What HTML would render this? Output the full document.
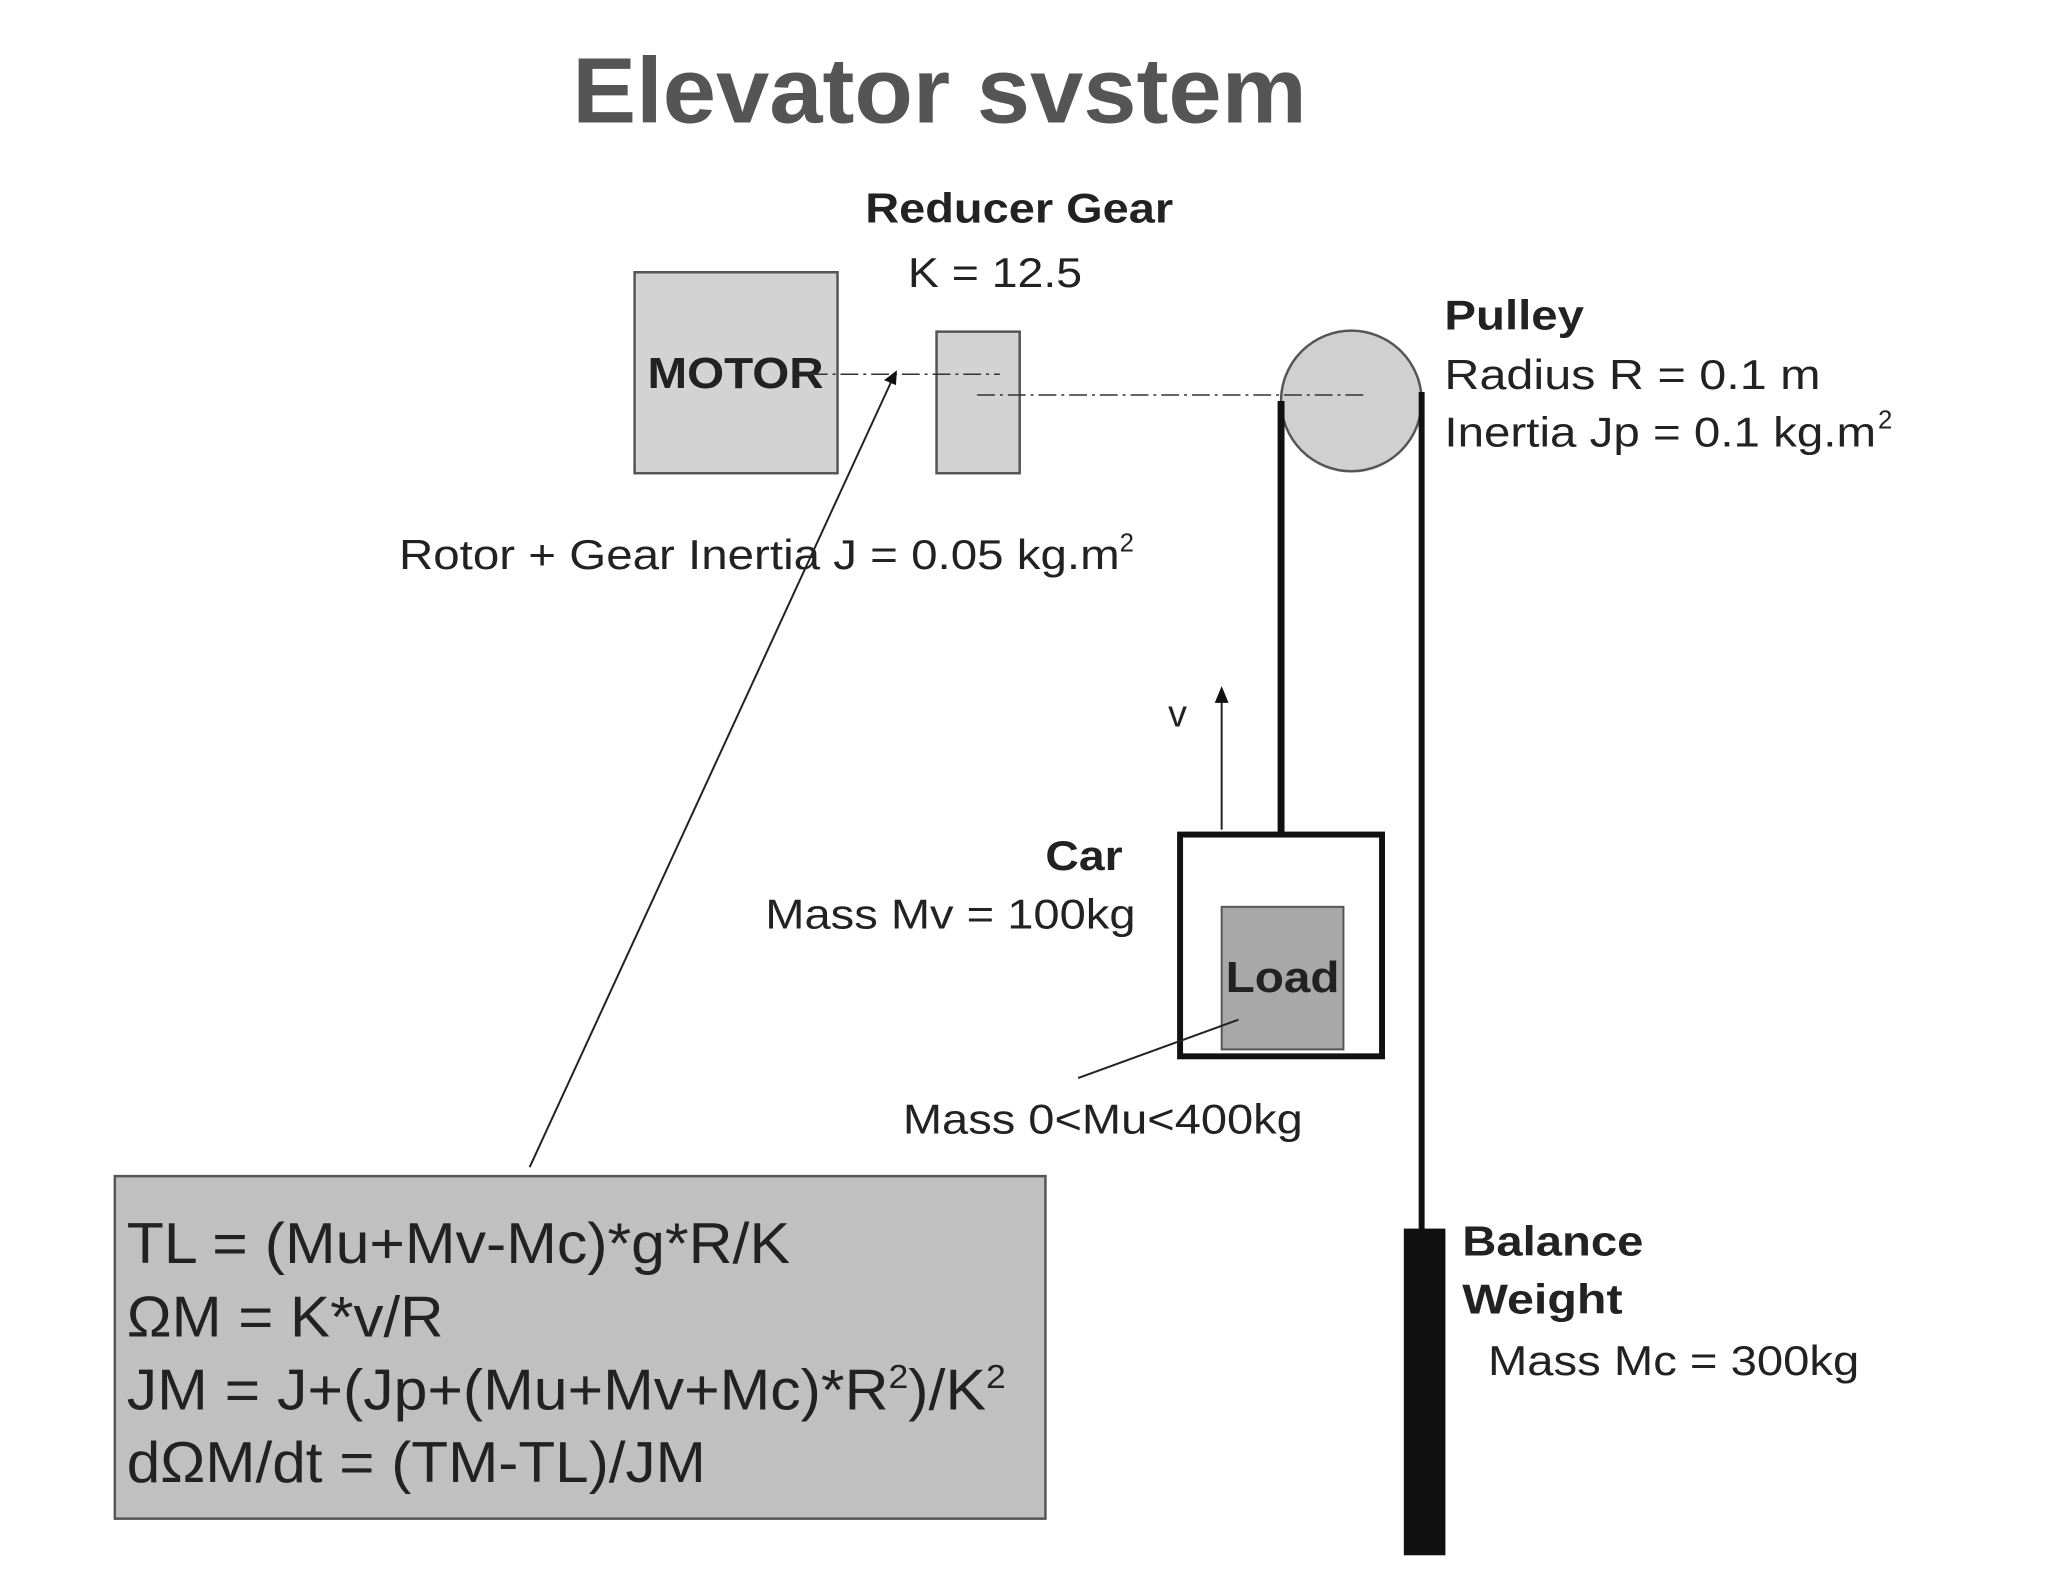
<!DOCTYPE html>
<html><head><meta charset="utf-8"><style>
html,body{margin:0;padding:0;background:#fff;}
svg{display:block;}
text{font-family:"Liberation Sans",Arial,sans-serif;fill:#222;}
</style></head><body>
<svg width="2048" height="1582" viewBox="0 0 2048 1582" xmlns="http://www.w3.org/2000/svg">
<g transform="scale(0.99)">
<text x="578" y="124" font-size="94" font-weight="bold" fill="#555" style="fill:#555" textLength="742" lengthAdjust="spacingAndGlyphs">Elevator svstem</text>

<rect x="641" y="275" width="205" height="203" fill="#d3d3d3" stroke="#555" stroke-width="2.5"/>
<text x="654" y="392" font-size="44" font-weight="bold" textLength="178" lengthAdjust="spacingAndGlyphs">MOTOR</text>
<rect x="946" y="335" width="84" height="143" fill="#d3d3d3" stroke="#555" stroke-width="2.5"/>
<circle cx="1365" cy="405" r="71" fill="#d0d0d0" stroke="#555" stroke-width="2.5"/>

<line x1="818" y1="378" x2="1010" y2="378" stroke="#333" stroke-width="1.5" stroke-dasharray="18,5,3,5"/>
<line x1="987" y1="399" x2="1379" y2="399" stroke="#333" stroke-width="1.5" stroke-dasharray="18,5,3,5"/>

<text x="874" y="225" font-size="42" font-weight="bold" textLength="311" lengthAdjust="spacingAndGlyphs">Reducer Gear</text>
<text x="917" y="290" font-size="42" textLength="176" lengthAdjust="spacingAndGlyphs">K = 12.5</text>
<text x="1459" y="333" font-size="42" font-weight="bold" textLength="141" lengthAdjust="spacingAndGlyphs">Pulley</text>
<text x="1459" y="393" font-size="42" textLength="380" lengthAdjust="spacingAndGlyphs">Radius  R = 0.1 m</text>
<text x="1459" y="451" font-size="42" textLength="436" lengthAdjust="spacingAndGlyphs">Inertia Jp = 0.1 kg.m</text>
<text x="1897" y="433" font-size="26">2</text>
<text x="403" y="575" font-size="42" textLength="728" lengthAdjust="spacingAndGlyphs">Rotor + Gear Inertia J = 0.05 kg.m</text>
<text x="1131" y="557" font-size="26">2</text>

<line x1="1294" y1="405" x2="1294" y2="841" stroke="#111" stroke-width="7"/>
<line x1="1436" y1="396" x2="1436" y2="1245" stroke="#111" stroke-width="6"/>
<rect x="1418" y="1241" width="42" height="330" fill="#111"/>

<rect x="1192" y="843" width="204" height="224" fill="none" stroke="#111" stroke-width="6"/>
<rect x="1234" y="916" width="123" height="144" fill="#a8a8a8" stroke="#555" stroke-width="2"/>
<text x="1238" y="1002" font-size="44" font-weight="bold" textLength="115" lengthAdjust="spacingAndGlyphs">Load</text>
<line x1="1251" y1="1030" x2="1089" y2="1089" stroke="#222" stroke-width="2"/>

<line x1="1234" y1="838" x2="1234" y2="705" stroke="#222" stroke-width="2"/>
<polygon points="1234,693 1227,710 1241,710" fill="#111"/>
<text x="1180" y="734" font-size="38">v</text>

<text x="1056" y="879" font-size="42" font-weight="bold" textLength="78" lengthAdjust="spacingAndGlyphs">Car</text>
<text x="773" y="938" font-size="42" textLength="374" lengthAdjust="spacingAndGlyphs">Mass Mv = 100kg</text>
<text x="912" y="1145" font-size="42" textLength="404" lengthAdjust="spacingAndGlyphs">Mass 0&lt;Mu&lt;400kg</text>
<text x="1477" y="1268" font-size="42" font-weight="bold" textLength="183" lengthAdjust="spacingAndGlyphs">Balance</text>
<text x="1477" y="1327" font-size="42" font-weight="bold" textLength="162" lengthAdjust="spacingAndGlyphs">Weight</text>
<text x="1503" y="1389" font-size="42" textLength="375" lengthAdjust="spacingAndGlyphs">Mass Mc = 300kg</text>

<line x1="535" y1="1179" x2="900" y2="386" stroke="#222" stroke-width="2"/>
<polygon points="906,374 893,384 905,389" fill="#111"/>

<rect x="116" y="1188" width="940" height="346" fill="#c0c0c0" stroke="#555" stroke-width="2.5"/>
<text x="128" y="1276" font-size="58" textLength="670" lengthAdjust="spacingAndGlyphs">TL = (Mu+Mv-Mc)*g*R/K</text>
<text x="128" y="1350" font-size="58" textLength="320" lengthAdjust="spacingAndGlyphs">ΩM = K*v/R</text>
<text x="128" y="1424" font-size="58" textLength="888" lengthAdjust="spacingAndGlyphs">JM = J+(Jp+(Mu+Mv+Mc)*R<tspan dy="-22" font-size="34">2</tspan><tspan dy="22">)/K</tspan><tspan dy="-22" font-size="34">2</tspan></text>
<text x="128" y="1497" font-size="58" textLength="585" lengthAdjust="spacingAndGlyphs">dΩM/dt = (TM-TL)/JM</text>
</g>
</svg>
</body></html>
